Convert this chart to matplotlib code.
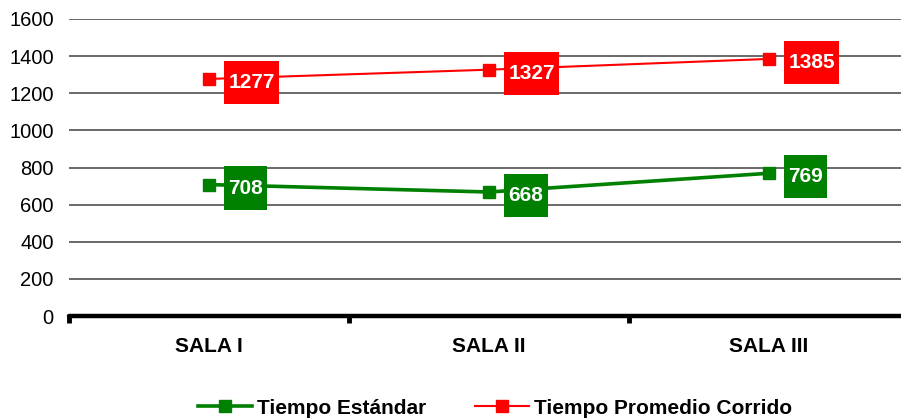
import matplotlib
matplotlib.use("Agg")
import matplotlib.pyplot as plt
from matplotlib.path import Path

plt.rcParams['font.family'] = ['Liberation Sans', 'DejaVu Sans']

salas = ['SALA I', 'SALA II', 'SALA III']
tiempo_estandar = [708, 668, 769]
tiempo_corrido = [1277, 1327, 1385]
y_ticks = [0, 200, 400, 600, 800, 1000, 1200, 1400, 1600]

GREEN = '#008000'
RED = '#ff0000'


def label_box(x0, y0, width, height, mutation_size):
    # rectangle with more vertical than horizontal padding
    px = 0.2 * mutation_size
    py = 0.58 * mutation_size
    verts = [(x0 - px, y0 - py), (x0 + width + px, y0 - py),
             (x0 + width + px, y0 + height + py), (x0 - px, y0 + height + py),
             (x0 - px, y0 - py)]
    return Path(verts, closed=True)


fig = plt.figure(figsize=(9.01, 4.18), dpi=100)
ax = fig.add_axes([69 / 901, 102 / 418, 1 - 69 / 901, 297 / 418])

x = list(range(len(salas)))
ax.plot(x, tiempo_estandar, color=GREEN, lw=2.6, marker='s', ms=8,
        label='Tiempo Estándar', zorder=3)
ax.plot(x, tiempo_corrido, color=RED, lw=1.5, marker='s', ms=8,
        label='Tiempo Promedio Corrido', zorder=3)

for series, col in [(tiempo_estandar, GREEN), (tiempo_corrido, RED)]:
    for xi, v in zip(x, series):
        ax.annotate(str(v), (xi, v), xytext=(14, -2.5), textcoords='offset points',
                    ha='left', va='center', fontsize=15, fontweight='bold',
                    color='white', zorder=5,
                    bbox=dict(boxstyle=label_box, fc=col, ec='none'))

ax.set_ylim(0, 1600)
ax.set_xlim(-0.5, 2.471)
ax.set_yticks(y_ticks)
ax.set_yticklabels([str(t) for t in y_ticks], fontsize=14.5)
ax.tick_params(axis='y', length=0, pad=11)
ax.yaxis.grid(True, color='#404040', lw=1.1)
ax.set_axisbelow(True)

ax.set_xticks(x)
ax.set_xticklabels(salas, fontsize=15, fontweight='bold')
ax.set_xticks([-0.5, 0.5, 1.5], minor=True)
ax.tick_params(axis='x', which='major', length=0, pad=15)
ax.tick_params(axis='x', which='minor', length=5, width=3.5, color='black')

for s in ['left', 'right', 'top']:
    ax.spines[s].set_visible(False)
ax.spines['bottom'].set_linewidth(3.2)
ax.spines['bottom'].set_capstyle('round')
ax.spines['bottom'].set_zorder(4)

fig.legend(loc='center', bbox_to_anchor=(495 / 901, 1 - 408 / 418), ncol=2,
           frameon=False, prop={'weight': 'bold', 'size': 15},
           handlelength=2.6, handletextpad=0.25, columnspacing=2.3)

fig.savefig('out.png', dpi=100)
